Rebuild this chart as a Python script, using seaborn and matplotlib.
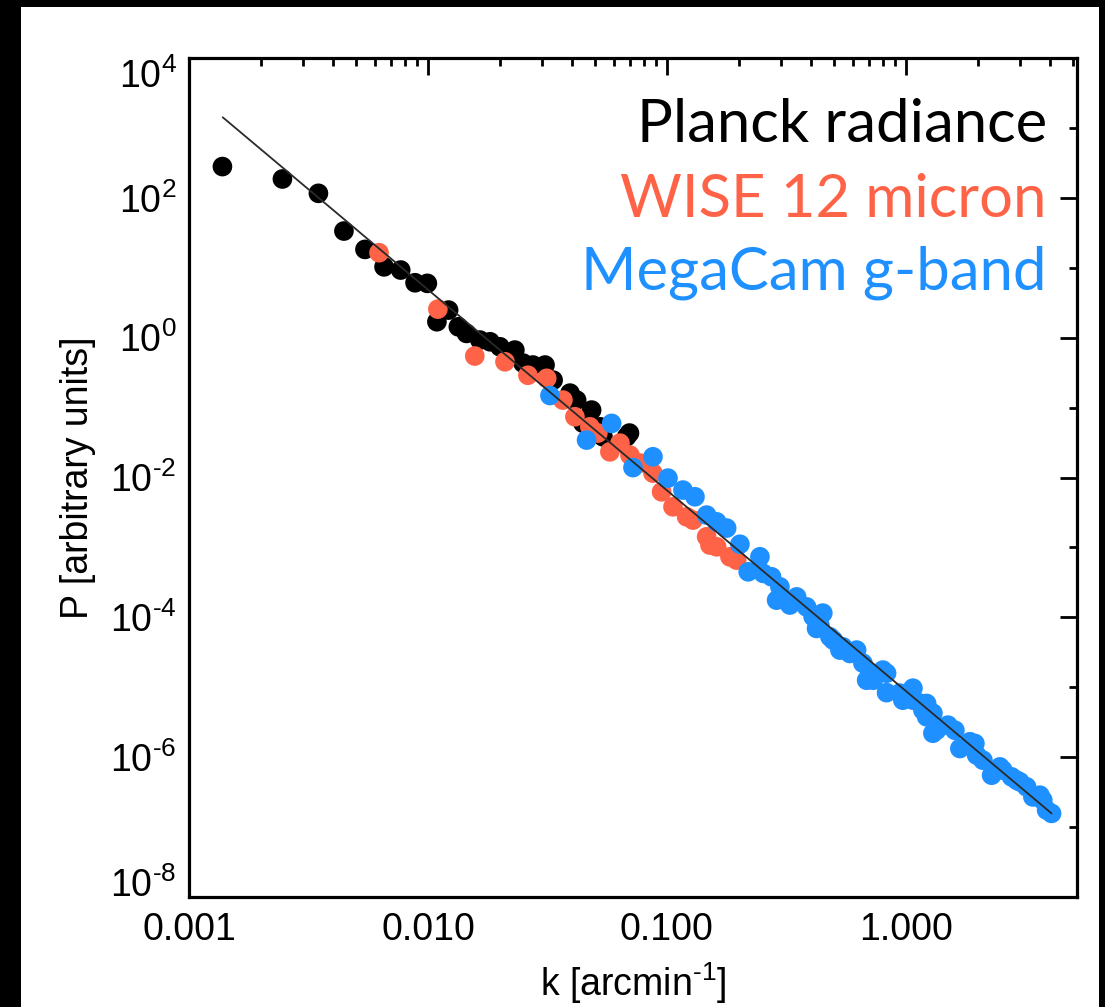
import numpy as np
import pandas as pd
import matplotlib
matplotlib.use("Agg")
import matplotlib.pyplot as plt
from matplotlib.patches import Rectangle
from matplotlib.ticker import FixedLocator, FixedFormatter, LogLocator, NullFormatter
import seaborn as sns

# ── data ──────────────────────────────────────────────────────────────────────
planck_k = [1.38e-3, 2.46e-3, 3.48e-3, 4.45e-3, 5.45e-3, 6.55e-3, 7.69e-3, 8.83e-3,
            9.94e-3, 0.0109, 0.0122, 0.0134, 0.0145, 0.0165, 0.0182, 0.0200,
            0.0220, 0.0231, 0.0250, 0.0275, 0.0309, 0.0334, 0.0393, 0.0419,
            0.0445, 0.0484, 0.0525, 0.0540, 0.0678, 0.0697]
planck_p = [280, 186, 116, 33.5, 18.3, 10.3, 9.27, 6.10,
            5.98, 1.69, 2.48, 1.43, 1.15, 0.924, 0.873, 0.741,
            0.533, 0.665, 0.433, 0.406, 0.406, 0.247, 0.161, 0.128,
            0.060, 0.0921, 0.0531, 0.0382, 0.0382, 0.0432]

wise_k = [6.24e-3, 0.0110, 0.0157, 0.0210, 0.0262, 0.0314, 0.0367, 0.0412,
          0.0476, 0.0514, 0.0577, 0.0636, 0.0700, 0.0771, 0.0874, 0.0950,
          0.106, 0.1209, 0.1285, 0.1466, 0.1514, 0.1615, 0.1835, 0.1957]
wise_p = [16.4, 2.56, 0.546, 0.452, 0.29, 0.262, 0.128, 0.0739,
          0.0531, 0.0432, 0.0233, 0.031, 0.0209, 0.0161, 0.01156, 6.24e-3,
          3.81e-3, 2.74e-3, 2.46e-3, 1.42e-3, 1.08e-3, 1.02e-3, 7.34e-4, 6.58e-4]

megacam_k = [0.0324, 0.0461, 0.0587, 0.0721, 0.0874, 0.101, 0.1167, 0.131,
             0.1466, 0.1615, 0.1778, 0.202, 0.2188, 0.245, 0.253, 0.274,
             0.2877, 0.297, 0.312, 0.327, 0.349, 0.384, 0.409, 0.4227,
             0.4285, 0.4365, 0.449, 0.481, 0.4966, 0.5297, 0.545, 0.583,
             0.622, 0.661, 0.685, 0.707, 0.730, 0.801, 0.830, 0.830,
             0.944, 0.971, 1.039, 1.07, 1.073, 1.144, 1.178, 1.221,
             1.221, 1.297, 1.297, 1.344, 1.499, 1.603, 1.682, 1.853,
             1.944, 1.977, 2.10, 2.284, 2.473, 2.546, 2.768, 2.905,
             3.00, 3.20, 3.40, 3.637, 3.74, 3.88, 4.07]
megacam_p = [0.1486, 0.0343, 0.0594, 0.01386, 0.0198, 9.8e-3, 6.61e-3, 5.3e-3,
             2.9e-3, 2.32e-3, 1.89e-3, 1.11e-3, 4.48e-4, 7.34e-4, 4.25e-4, 3.80e-4,
             1.76e-4, 2.73e-4, 1.76e-4, 1.50e-4, 1.96e-4, 1.41e-4, 1.02e-4, 6.93e-5,
             1.07e-4, 7.73e-5, 1.15e-4, 5.26e-5, 4.72e-5, 3.40e-5, 3.78e-5, 3.04e-5,
             3.40e-5, 2.21e-5, 1.26e-5, 1.59e-5, 1.26e-5, 1.76e-5, 1.59e-5, 8.37e-6,
             8.24e-6, 6.53e-6, 8.6e-6, 9.7e-6, 6.53e-6, 5.93e-6, 4.70e-6, 5.86e-6,
             3.78e-6, 4.26e-6, 2.2e-6, 2.43e-6, 2.87e-6, 2.43e-6, 1.33e-6, 1.66e-6,
             1.57e-6, 1.07e-6, 9.06e-7, 5.52e-7, 7.26e-7, 6.52e-7, 5.23e-7, 4.69e-7,
             4.43e-7, 3.76e-7, 2.70e-7, 2.86e-7, 2.43e-7, 1.75e-7, 1.57e-7]

fit_k = [1.384e-3, 4.07]
fit_p = [1419, 1.57e-7]

SURVEYS = ["Planck radiance", "WISE 12 micron", "MegaCam g-band"]
COLOURS = {"Planck radiance": "black",
           "WISE 12 micron": "#FF6347",
           "MegaCam g-band": "#1E90FF"}

x_major = [0.001, 0.01, 0.1, 1.0]
x_labels = ["0.001", "0.010", "0.100", "1.000"]
y_major = [1e-8, 1e-6, 1e-4, 1e-2, 1e0, 1e2, 1e4]
y_labels = [r"$10^{\text{-}8}$", r"$10^{\text{-}6}$", r"$10^{\text{-}4}$",
            r"$10^{\text{-}2}$", r"$10^{0}$", r"$10^{2}$", r"$10^{4}$"]
y_minor = [1e-7, 1e-5, 1e-3, 1e-1, 1e1, 1e3]

# ── style ─────────────────────────────────────────────────────────────────────
sns.set_style("white")
plt.rcParams.update({
    "font.family": ["Liberation Sans", "DejaVu Sans"],
    "mathtext.fontset": "custom",
    "mathtext.rm": "Liberation Sans",
    "mathtext.it": "Liberation Sans:italic",
    "mathtext.bf": "Liberation Sans:bold",
    "mathtext.default": "regular",
    "text.color": "black",
    "axes.labelcolor": "black",
    "xtick.color": "black",
    "ytick.color": "black",
})

df = pd.concat([
    pd.DataFrame({"k": planck_k, "P": planck_p, "survey": SURVEYS[0]}),
    pd.DataFrame({"k": wise_k, "P": wise_p, "survey": SURVEYS[1]}),
    pd.DataFrame({"k": megacam_k, "P": megacam_p, "survey": SURVEYS[2]}),
], ignore_index=True)

W, H = 1105, 1007
fig = plt.figure(figsize=(W / 100, H / 100), dpi=100, facecolor="black")
fig.patches.append(Rectangle((21 / W, 0), (1099 - 21) / W, 1 - 7 / H,
                             transform=fig.transFigure, facecolor="white",
                             edgecolor="none", zorder=-10))
ax = fig.add_axes([189 / W, 1 - 897 / H, 888 / W, 839 / H])
ax.set_facecolor("white")
ax.set_xscale("log")
ax.set_yscale("log")

sns.scatterplot(data=df, x="k", y="P", hue="survey", hue_order=SURVEYS,
                palette=COLOURS, s=200, linewidth=0, alpha=1,
                legend=False, ax=ax)
sns.lineplot(x=fit_k, y=fit_p, color="#2a2a2a", lw=1.3, sort=False, ax=ax)

ax.set_xlim(0.001, 5.2)
ax.set_ylim(1e-8, 1e4)

ax.xaxis.set_major_locator(FixedLocator(x_major))
ax.xaxis.set_major_formatter(FixedFormatter(x_labels))
ax.xaxis.set_minor_locator(LogLocator(base=10, subs=np.arange(2, 10), numticks=20))
ax.xaxis.set_minor_formatter(NullFormatter())
ax.yaxis.set_major_locator(FixedLocator(y_major))
ax.yaxis.set_major_formatter(FixedFormatter(y_labels))
ax.yaxis.set_minor_locator(FixedLocator(y_minor))
ax.yaxis.set_minor_formatter(NullFormatter())

ax.tick_params(which="both", direction="in", top=True, right=True,
               width=2.0, color="black", labelcolor="black")
ax.tick_params(which="major", length=12, labelsize=27)
ax.tick_params(axis="x", which="major", pad=11)
ax.tick_params(axis="y", which="major", pad=9)
ax.tick_params(which="minor", length=6)
for sp in ax.spines.values():
    sp.set_linewidth(2.3)
    sp.set_color("black")

# the end labels sit inside the axis range, as in the original
ylabels = ax.yaxis.get_majorticklabels()
ylabels[0].set_verticalalignment("baseline")
ylabels[-1].set_verticalalignment("top")

ax.set_xlabel(r"k [arcmin$^{\text{-}1}$]", fontsize=27, labelpad=9)
ax.set_ylabel("P [arbitrary units]", fontsize=27, labelpad=10)

for name, yb in zip(SURVEYS, [0.900, 0.8105, 0.7235]):
    ax.text(0.966, yb, name, transform=ax.transAxes, ha="right", va="baseline",
            fontsize=43, color=COLOURS[name], family=["Lato", "DejaVu Sans"])

fig.savefig("out.png", dpi=100, facecolor=fig.get_facecolor())
